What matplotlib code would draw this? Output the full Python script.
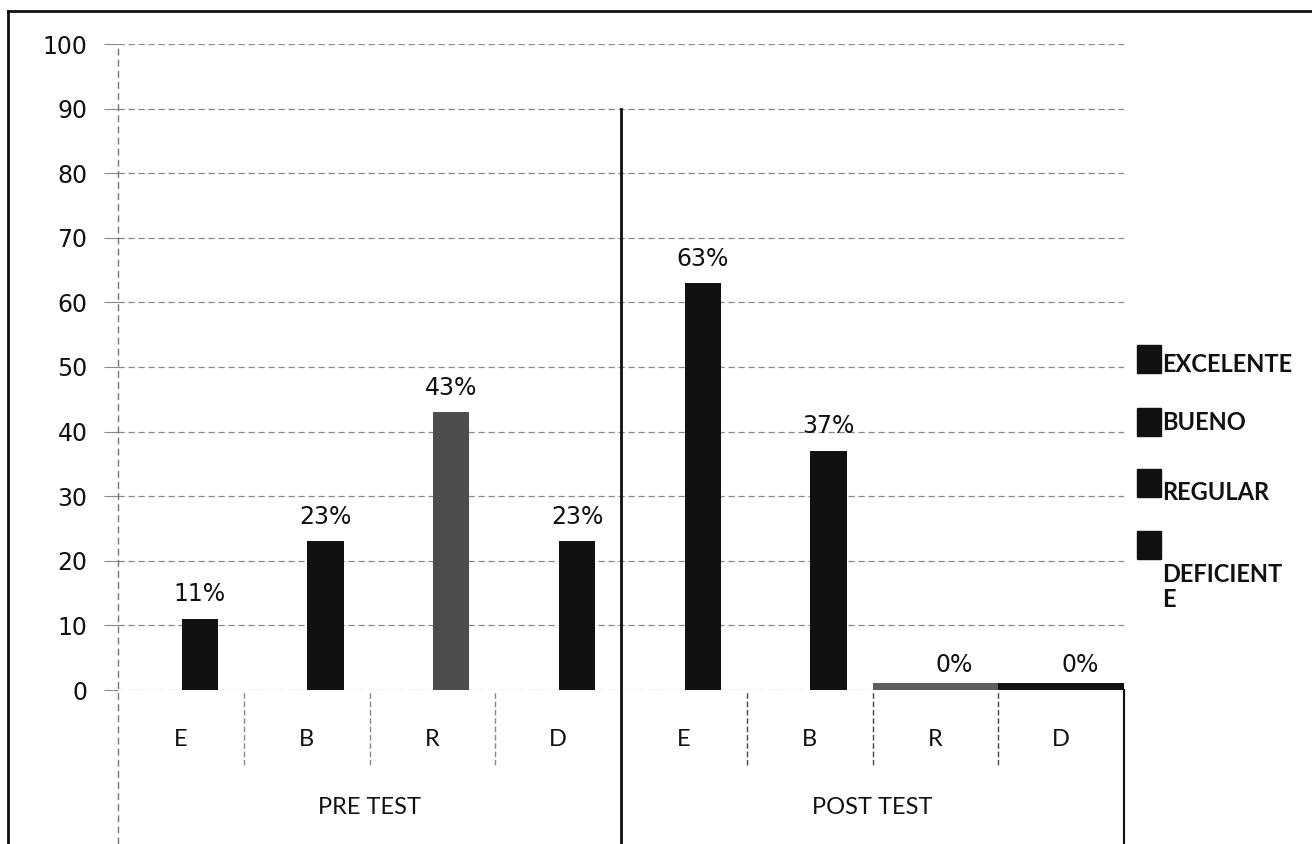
import matplotlib
matplotlib.use("Agg")
import matplotlib.pyplot as plt
from matplotlib.patches import Rectangle
from matplotlib.lines import Line2D
import matplotlib.transforms as mtransforms

# datos
grupos = ["PRE TEST", "POST TEST"]
niveles = ["E", "B", "R", "D"]
pre_test = [11, 23, 43, 23]
post_test = [63, 37, 0, 0]
leyenda = ["EXCELENTE", "BUENO", "REGULAR", "DEFICIENT\nE"]

W, H = 1312, 844
fig = plt.figure(figsize=(W / 100, H / 100), dpi=100)
fig.patch.set_facecolor("white")

# area del grafico (en pixeles)
x0, x1, y_top, y_bot = 118, 1124, 44, 690
ax = fig.add_axes([x0 / W, 1 - y_bot / H, (x1 - x0) / W, (y_bot - y_top) / H])

n = len(niveles)
valores = pre_test + post_test
colores = ["#111111", "#111111", "#4d4d4d", "#111111",
           "#111111", "#111111", "#5e5e5e", "#111111"]

for i, v in enumerate(valores):
    centro = i + 0.5
    if v == 0:
        # los 0% se ven como una franja a lo ancho de la categoria
        ax.bar(centro, 1.1, width=1.0, color=colores[i], zorder=3)
    else:
        ax.bar(centro + 0.15, v, width=0.29, color=colores[i], zorder=3)
    ax.annotate("%d%%" % v, (centro + 0.15, v), xytext=(0, 9),
                textcoords="offset points", ha="center", va="bottom",
                fontsize=17, family="DejaVu Sans", color="#111111")

ax.set_xlim(0, 2 * n)
ax.set_ylim(0, 100)
ax.set_yticks(range(0, 101, 10))
ax.set_xticks([])
ax.grid(axis="y", color="#888888", linestyle=(0, (5, 3)), linewidth=0.9, zorder=0)
ax.tick_params(axis="y", length=10, width=0.8, color="#888888", pad=12,
               labelsize=17, labelcolor="#111111")
for s in ax.spines.values():
    s.set_visible(False)

trans = mtransforms.blended_transform_factory(ax.transData, ax.transAxes)
fondo = -(H - y_bot) / (y_bot - y_top)
corte = -75 / (y_bot - y_top)

# eje izquierdo punteado
ax.plot([0, 0], [fondo, 1], transform=trans, clip_on=False,
        color="#777777", linestyle=(0, (5, 3)), linewidth=1)
# separador de grupos
ax.plot([n, n], [fondo, 0.9], transform=trans, clip_on=False,
        color="#111111", linewidth=2)
# borde derecho bajo el eje
ax.plot([2 * n, 2 * n], [fondo, 0], transform=trans, clip_on=False,
        color="#111111", linewidth=1.5)
# divisiones entre categorias
for k in range(1, 2 * n):
    if k == n:
        continue
    c = "#888888" if k < n else "#444444"
    ax.plot([k, k], [corte, 0], transform=trans, clip_on=False,
            color=c, linestyle=(0, (4, 2)), linewidth=1)

# etiquetas de categorias y grupos
for g, nombre in enumerate(grupos):
    for j, nv in enumerate(niveles):
        ax.text(g * n + j + 0.5, -50 / (y_bot - y_top), nv, transform=trans,
                ha="center", va="center", fontsize=17, family="Lato",
                color="#111111")
    ax.text(g * n + n / 2, -118 / (y_bot - y_top), nombre, transform=trans,
            ha="center", va="center", fontsize=17, family="Lato",
            color="#111111")

# leyenda dibujada a mano
cuadro_y = [359, 422, 483, 545]
texto_dy = [6, 0, 10, 0]
for i, etiqueta in enumerate(leyenda):
    cy = cuadro_y[i]
    fig.add_artist(Rectangle((1137 / W, 1 - (cy + 14) / H), 24 / W, 28 / H,
                             transform=fig.transFigure, color="#111111"))
    if "\n" in etiqueta:
        fig.text(1162 / W, 1 - (cy + 18) / H, etiqueta, ha="left", va="top",
                 fontsize=17, family="Lato", weight="bold", color="#111111",
                 linespacing=1.1)
    else:
        fig.text(1162 / W, 1 - (cy + texto_dy[i]) / H, etiqueta, ha="left",
                 va="center", fontsize=17, family="Lato", weight="bold",
                 color="#111111")

# marco exterior (solo arriba e izquierda)
fig.add_artist(Line2D([8 / W, 1], [1 - 11 / H, 1 - 11 / H],
                      transform=fig.transFigure, color="#111111", linewidth=2))
fig.add_artist(Line2D([8 / W, 8 / W], [0, 1 - 11 / H],
                      transform=fig.transFigure, color="#111111", linewidth=2))

fig.savefig("out.png", dpi=100)
